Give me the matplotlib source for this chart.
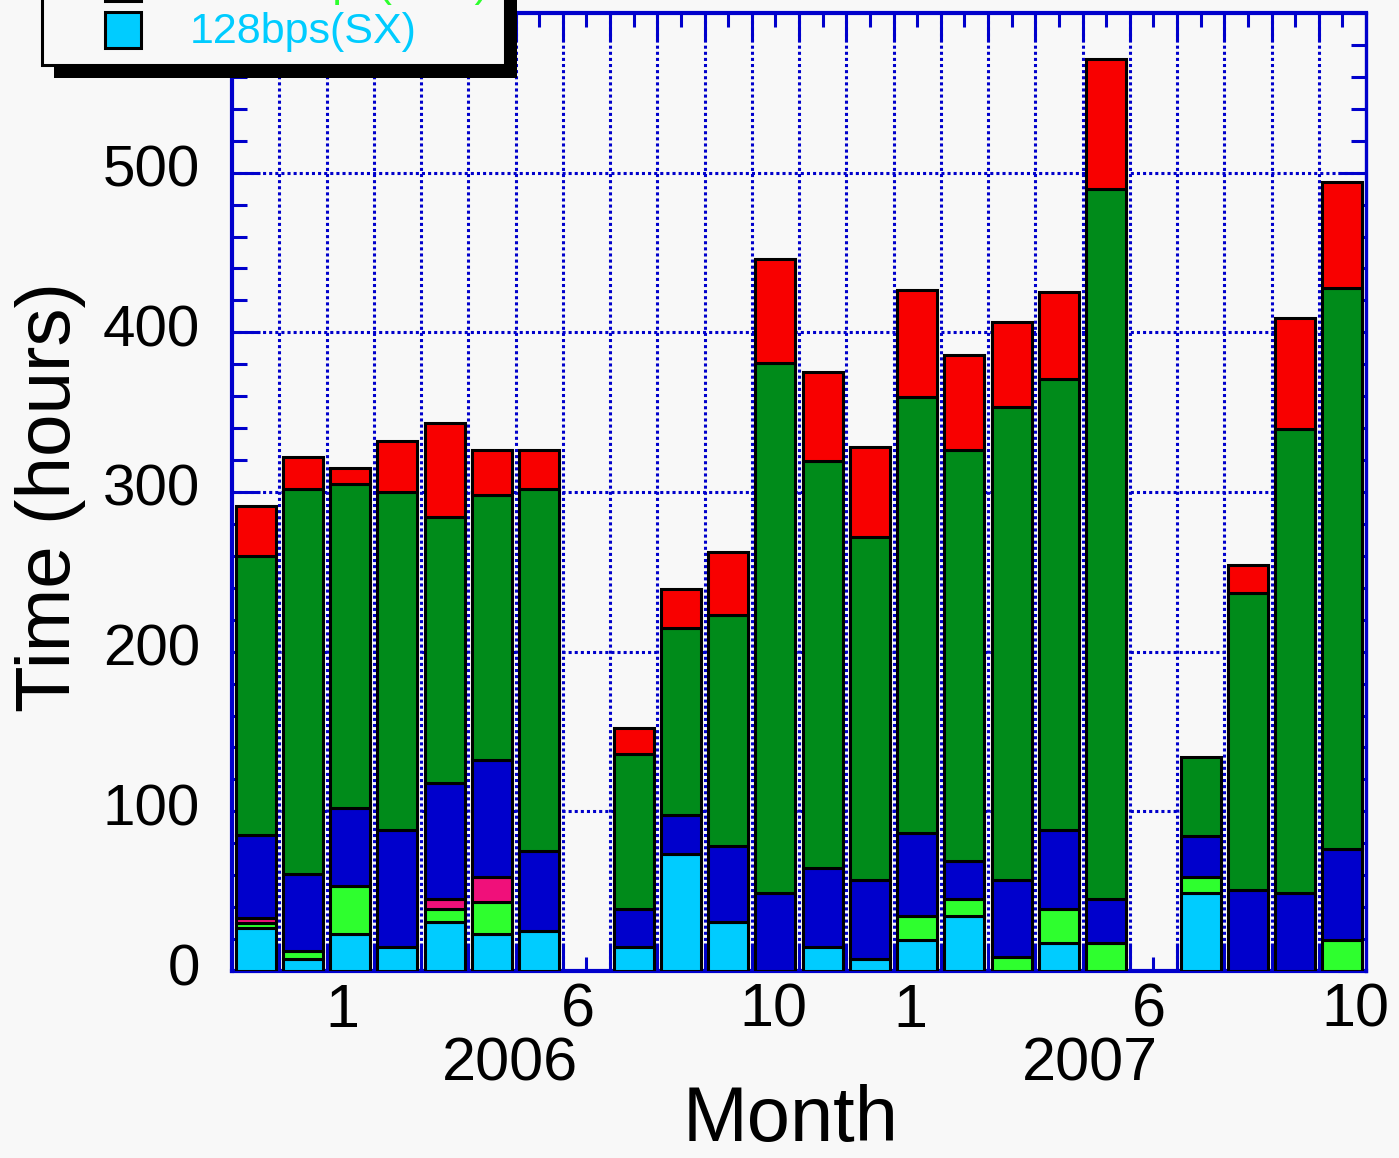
import numpy as np
import matplotlib
matplotlib.use("Agg")
import matplotlib.pyplot as plt
import matplotlib.transforms as mtrans
from matplotlib.patches import Rectangle

plt.rcParams['font.family'] = ['Liberation Sans', 'DejaVu Sans']

# --- data (hours per month, Nov 2005 .. Oct 2007) ---
months = ["2005-11", "2005-12",
          "2006-01", "2006-02", "2006-03", "2006-04", "2006-05", "2006-06",
          "2006-07", "2006-08", "2006-09", "2006-10", "2006-11", "2006-12",
          "2007-01", "2007-02", "2007-03", "2007-04", "2007-05", "2007-06",
          "2007-07", "2007-08", "2007-09", "2007-10"]

sx128 = [27, 7.5, 23, 15, 31, 23, 25, 0, 15, 73, 31, 0,
         15, 7.5, 19.5, 34.5, 0, 17.5, 0, 0, 49, 0, 0, 0]
lgreen = [3, 5, 30, 0, 8, 20, 0, 0, 0, 0, 0, 0,
          0, 0, 15, 10.5, 9, 21.5, 17.5, 0, 10, 0, 0, 19.4]
pink = [3, 0, 0, 0, 6, 16, 0, 0, 0, 0, 0, 0,
        0, 0, 0, 0, 0, 0, 0, 0, 0, 0, 0, 0]
blue = [52, 48.5, 49, 73, 73, 73, 50, 0, 24, 25, 47, 49,
        49.5, 49.5, 52, 24, 48, 49, 27.5, 0, 25.6, 51, 49, 57]
dgreen = [175, 241, 203, 212, 166.5, 166, 227, 0, 97, 117, 145, 332,
          255, 215, 273, 257, 296, 283, 445, 0, 49.4, 186, 290.6, 351.6]
red = [31, 20, 10, 32, 58.5, 28, 24, 0, 16, 24, 39.5, 65,
       55.5, 56, 67, 60, 53.6, 54, 81, 0, 0, 17, 69.5, 66]

# bottom -> top
series = [sx128, lgreen, pink, blue, dgreen, red]
colors = ['#00ccff', '#2eff2e', '#f0107a', '#0000cc', '#008b1a', '#f80000']
# legend names (only the last ones are visible, the rest is cut off by the page)
names = ['128bps(SX)', '16384bps(S+X)', '64bps(SX)', '256bps(SX)', '1024bps(SX)', '2048bps(SX)']

# month labels under the axis (ROOT time axis puts them slightly off-centre)
month_lab = ['1', '6', '10', '1', '6', '10']
month_lab_x = [1.83, 6.82, 10.95, 13.85, 18.9, 23.27]
years = ['2006', '2007']
years_x = [5.38, 17.65]

W, H = 1399, 1158
BG = '#f8f8f8'
AXC = '#0000cc'

fig = plt.figure(figsize=(W / 100, H / 100), dpi=100, facecolor=BG)
ax = fig.add_axes([232 / W, 1 - 971 / H, (1366 - 232) / W, (971 - 13) / H])
ax.set_facecolor(BG)

x = np.arange(len(months))
bottom = np.zeros(len(months))
for vals, c in zip(series, colors):
    v = np.array(vals, dtype=float)
    m = v > 0
    ax.bar(x[m], v[m], bottom=bottom[m], width=0.85, color=c,
           edgecolor='black', linewidth=2.2, zorder=3)
    bottom += v

ax.set_xlim(-0.5, len(months) - 0.5)
ax.set_ylim(0, 600)

# ticks: long ones on month boundaries, short ones on month centres
ax.set_xticks(np.arange(0.5, len(months) - 1, 1.0))
ax.set_xticks(x, minor=True)
ax.set_xticklabels([])
ax.set_yticks(np.arange(0, 600, 100))
ax.set_yticks(np.arange(0, 601, 20), minor=True)

ax.tick_params(axis='x', which='major', direction='in', length=20, width=2.2,
               color=AXC, top=True)
ax.tick_params(axis='x', which='minor', direction='in', length=10, width=2.2,
               color=AXC, top=True)
ax.tick_params(axis='y', which='major', direction='in', length=20, width=2.2,
               color=AXC, labelsize=42, pad=23, right=True)
ax.tick_params(axis='y', which='minor', direction='in', length=11, width=2.2,
               color=AXC, right=True)

# ROOT draws the y labels a little above the tick
up = mtrans.ScaledTranslation(0, 7 / 100, fig.dpi_scale_trans)
for lab in ax.get_yticklabels():
    lab.set_transform(lab.get_transform() + up)

ax.xaxis.grid(True, which='major', color=AXC, linestyle=(0, (1, 1)), linewidth=2.2)
ax.yaxis.grid(True, which='major', color=AXC, linestyle=(0, (1, 1)), linewidth=2.2)
ax.set_axisbelow(True)

for s in ax.spines.values():
    s.set_color(AXC)
    s.set_linewidth(2.4)
ax.spines['left'].set_linewidth(3)
ax.spines['bottom'].set_linewidth(3)
ax.spines['top'].set_linewidth(3)

trans = ax.get_xaxis_transform()
for lx, lab in zip(month_lab_x, month_lab):
    ax.text(lx, -0.0125, lab, transform=trans, ha='center', va='top',
            fontsize=44, clip_on=False)
for yx, lab in zip(years_x, years):
    ax.text(yx, -0.098, lab, transform=trans, ha='center', va='center',
            fontsize=44, clip_on=False)

fig.text(791 / W, 1 - 1120 / H, 'Month', ha='center', va='center', fontsize=56)
fig.text(51 / W, 1 - 497 / H, 'Time (hours)', ha='center', va='center',
         rotation=90, fontsize=55)


# --- legend box (top part is outside the page, as in the original) ---
def fxy(px, py):
    return px / W, 1 - py / H


def frect(x0, y0, x1, y1, **kw):
    fx, fy = fxy(x0, y1)
    r = Rectangle((fx, fy), (x1 - x0) / W, (y1 - y0) / H,
                  transform=fig.transFigure, **kw)
    fig.patches.append(r)


frect(54, -300, 517, 78, facecolor='black', edgecolor='none', zorder=10)
frect(42, -312, 505, 65, facecolor=BG, edgecolor='black', linewidth=2.2, zorder=11)

row = 47
for i, (name, c) in enumerate(zip(names, colors)):
    yc = 30 - i * row
    frect(105, yc - 18, 141, yc + 18, facecolor=c, edgecolor='black',
          linewidth=2.2, zorder=12)
    fx, fy = fxy(190, yc + 13)
    fig.text(fx, fy, name, color=c, fontsize=31, ha='left', va='baseline', zorder=12)

fig.savefig('out.png', dpi=100, facecolor=BG)
